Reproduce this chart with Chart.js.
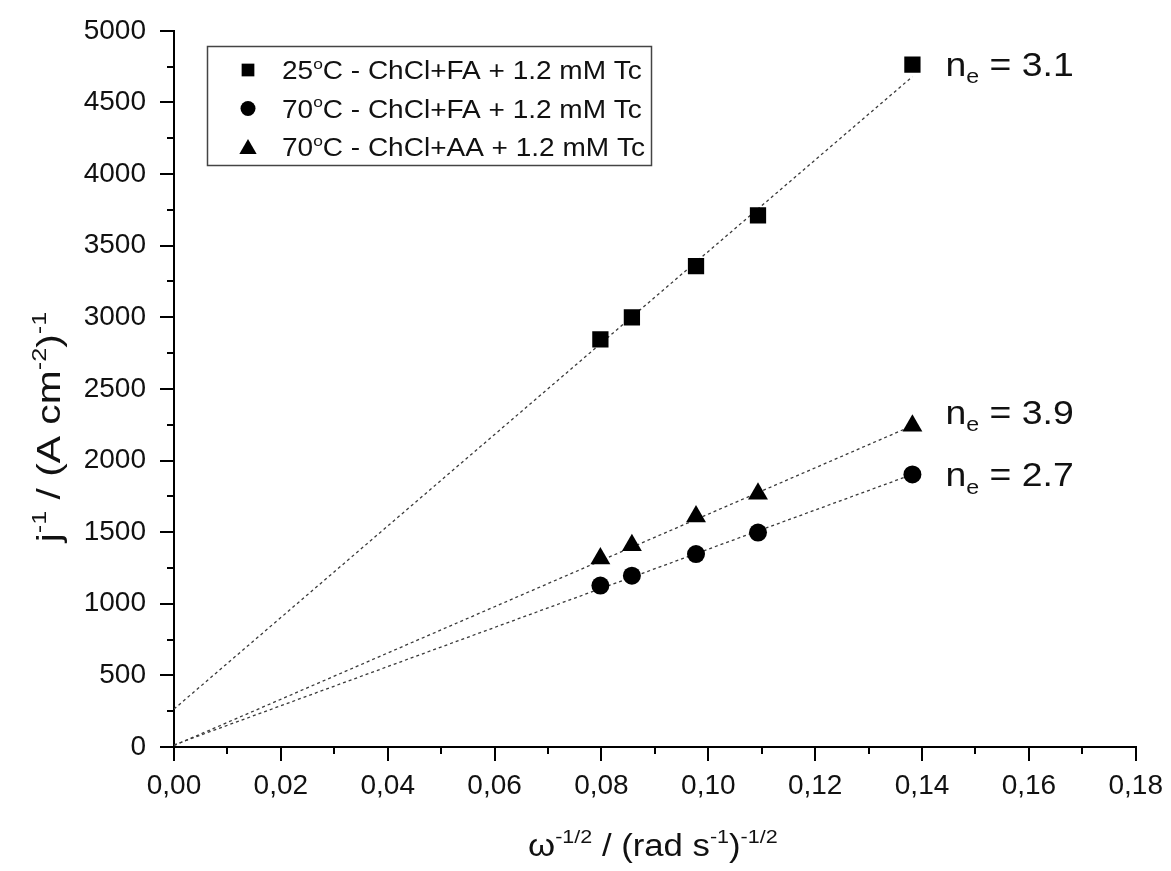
<!DOCTYPE html>
<html>
<head>
<meta charset="utf-8">
<script src="https://cdn.jsdelivr.net/npm/chart.js@4/dist/chart.umd.min.js"></script>
<style>
  html, body { margin: 0; padding: 0; background: #fff; }
</style>
</head>
<body>
<canvas id="levich" width="1171" height="871"></canvas>
<script>
// Levich plot: inverse current density vs inverse square root of rotation rate

const omegaInv = [0.0798, 0.0857, 0.0977, 0.1093, 0.1382]
const jInvFA25 = [2846, 2999, 3357, 3711, 4764]
const jInvFA70 = [1127, 1196, 1347, 1497, 1903]
const jInvAA70 = [1316, 1409, 1610, 1768, 2243]

// linear fits, start and end of each line
const fitX = [0, 0.1382]
const fitFA25 = [265, 4680]
const fitFA70 = [15, 1903]
const fitAA70 = [10, 2243]

const legendTemps = ['25', '70', '70']
const legendRest = ['C - ChCl+FA + 1.2 mM Tc', 'C - ChCl+FA + 1.2 mM Tc', 'C - ChCl+AA + 1.2 mM Tc']
const neValues = ['3.1', '3.9', '2.7']

const FONT = '"Liberation Sans", Arial, sans-serif'
const INK = '#111'

let pts = (xs, ys) => xs.map((v, i) => ({x: v, y: ys[i]}))
let fmtTick = v => v.toFixed(2).replace('.', ',')

// draw text made of pieces, some raised or lowered
let drawRich = function(ctx, parts, x, y, size, align, stretch) {
    let widths = parts.map(p => {
        let s = p[1] ? size * 0.62 : size
        ctx.font = s + 'px ' + FONT
        return ctx.measureText(p[0]).width
    })
    let total = widths.reduce((a, b) => a + b, 0)
    ctx.save()
    ctx.translate(x, y)
    ctx.scale(stretch || 1, 1)
    let cx = align === 'center' ? -total / 2 : 0
    ctx.textBaseline = 'alphabetic'
    ctx.textAlign = 'left'
    parts.forEach((p, i) => {
        let s = p[1] ? size * 0.62 : size
        let dy = p[1] === 'sup' ? -size * 0.42 : (p[1] === 'sub' ? size * 0.22 : 0)
        ctx.font = s + 'px ' + FONT
        ctx.fillText(p[0], cx, dy)
        cx += widths[i]
    })
    ctx.restore()
    return total
}

let marker = function(ctx, style, x, y, r) {
    ctx.beginPath()
    if (style === 'rect') {
        let h = r * Math.SQRT1_2
        ctx.rect(x - h, y - h, 2 * h, 2 * h)
    } else if (style === 'circle') {
        ctx.arc(x, y, r, 0, Math.PI * 2)
    } else {
        ctx.moveTo(x, y - r)
        ctx.lineTo(x + r * 0.866, y + r * 0.5)
        ctx.lineTo(x - r * 0.866, y + r * 0.5)
        ctx.closePath()
    }
    ctx.fill()
}

const decorations = {
    id: 'decorations',
    afterDraw(chart) {
        let ctx = chart.ctx
        let area = chart.chartArea
        let xs = chart.scales.x
        let ys = chart.scales.y
        ctx.save()

        // minor ticks
        ctx.strokeStyle = '#000'
        ctx.lineWidth = 2
        for (let v = 250; v < 5000; v += 500) {
            let py = Math.round(ys.getPixelForValue(v))
            ctx.beginPath()
            ctx.moveTo(area.left - 7, py)
            ctx.lineTo(area.left, py)
            ctx.stroke()
        }
        for (let k = 1; k < 18; k += 2) {
            let px = Math.round(xs.getPixelForValue(k / 100))
            ctx.beginPath()
            ctx.moveTo(px, area.bottom)
            ctx.lineTo(px, area.bottom + 7)
            ctx.stroke()
        }

        ctx.fillStyle = INK

        // axis titles
        let xParts = [['\u03c9'], ['-1/2', 'sup'], [' / (rad s'], ['-1', 'sup'], [')'], ['-1/2', 'sup']]
        drawRich(ctx, xParts, (area.left + area.right) / 2 - 2, 856, 31, 'center', 1.12)

        ctx.save()
        ctx.translate(60, 427)
        ctx.rotate(-Math.PI / 2)
        let yParts = [['j'], ['-1', 'sup'], [' / (A cm'], ['-2', 'sup'], [')'], ['-1', 'sup']]
        drawRich(ctx, yParts, 0, 0, 34, 'center', 1.2)
        ctx.restore()

        // legend
        ctx.strokeStyle = '#444'
        ctx.lineWidth = 1.5
        ctx.strokeRect(207.5, 46.5, 444, 119)
        let styles = ['rect', 'circle', 'triangle']
        let sizes = [9, 7.5, 10]
        legendTemps.forEach((t, i) => {
            let ly = 70 + i * 38.5
            ctx.fillStyle = '#000'
            marker(ctx, styles[i], 248, ly + (i === 2 ? 2 : 0), sizes[i])
            ctx.fillStyle = INK
            drawRich(ctx, [[t], ['o', 'sup'], [legendRest[i]]], 282, ly + 9, 25, 'left', 1.12)
        })

        // electron numbers next to the last points
        let lastIdx = omegaInv.length - 1
        let lastVals = [jInvFA25[lastIdx], jInvAA70[lastIdx], jInvFA70[lastIdx]]
        let dropPx = [11, -2, 12]
        neValues.forEach((n, i) => {
            let px = xs.getPixelForValue(omegaInv[lastIdx]) + 33
            let py = ys.getPixelForValue(lastVals[i]) + dropPx[i]
            drawRich(ctx, [['n'], ['e', 'sub'], [' = ' + n]], px, py, 34, 'left', 1.1)
        })

        ctx.restore()
    }
}

let fitLine = (ys) => ({
    type: 'line',
    data: pts(fitX, ys),
    showLine: true,
    borderColor: '#3a3a3a',
    borderWidth: 1.3,
    borderDash: [3, 3],
    pointRadius: 0,
    order: 2
})

let markerSet = (ys, style, r) => ({
    data: pts(omegaInv, ys),
    pointStyle: style,
    pointRadius: r,
    pointBackgroundColor: '#000',
    pointBorderWidth: 0,
    showLine: false,
    order: 1
})

let levichChart = new Chart(document.getElementById('levich').getContext('2d'), {
    type: 'scatter',
    data: {
        datasets: [
            markerSet(jInvFA25, 'rect', 11.5),
            markerSet(jInvFA70, 'circle', 9),
            markerSet(jInvAA70, 'triangle', 11.5),
            fitLine(fitFA25),
            fitLine(fitFA70),
            fitLine(fitAA70)
        ]
    },
    options: {
        responsive: false,
        animation: false,
        events: [],
        layout: {
            padding: {top: 28, right: 31, bottom: 0, left: 0}
        },
        plugins: {
            legend: {display: false},
            tooltip: {enabled: false}
        },
        scales: {
            x: {
                type: 'linear',
                min: 0,
                max: 0.18,
                afterFit: s => { s.height = 124 },
                ticks: {
                    stepSize: 0.02,
                    callback: v => fmtTick(v),
                    font: {family: FONT, size: 28},
                    color: INK,
                    padding: 8,
                    maxRotation: 0
                },
                grid: {
                    drawOnChartArea: false,
                    drawTicks: true,
                    tickLength: 14,
                    lineWidth: 2,
                    color: '#000'
                },
                border: {display: true, color: '#000', width: 2}
            },
            y: {
                type: 'linear',
                min: 0,
                max: 5000,
                afterFit: s => { s.width = 174 },
                ticks: {
                    stepSize: 500,
                    callback: v => String(v),
                    font: {family: FONT, size: 28},
                    color: INK,
                    padding: 14
                },
                grid: {
                    drawOnChartArea: false,
                    drawTicks: true,
                    tickLength: 14,
                    lineWidth: 2,
                    color: '#000'
                },
                border: {display: true, color: '#000', width: 2}
            }
        }
    },
    plugins: [decorations]
})
</script>
</body>
</html>
